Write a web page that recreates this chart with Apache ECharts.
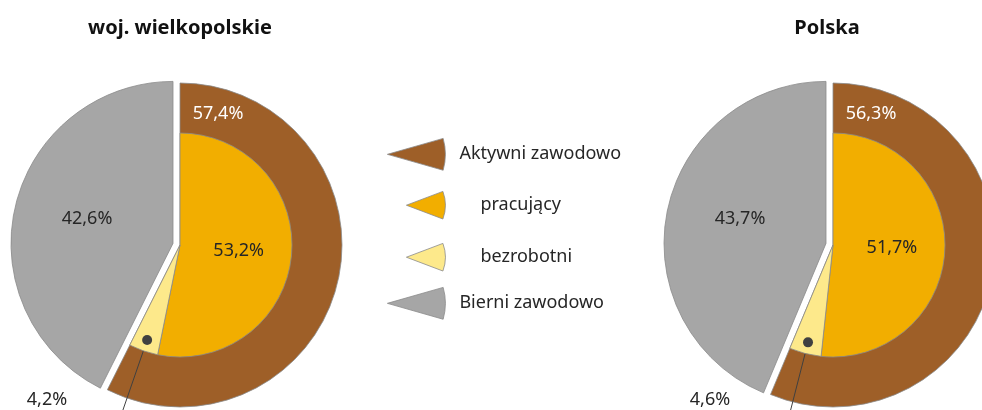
<!DOCTYPE html>
<html>
<head>
<meta charset="utf-8">
<script src="https://cdn.jsdelivr.net/npm/echarts@6/dist/echarts.min.js"></script>
<style>
    html, body { margin: 0; padding: 0; background: #fff; }
    #chart { width: 982px; height: 410px; }
</style>
</head>
<body>
<div id="chart"></div>
<script>
    // dane
    const regions = ['woj. wielkopolskie', 'Polska'];
    const categories = ['Aktywni zawodowo', 'pracujący', 'bezrobotni', 'Bierni zawodowo'];
    const aktywni = [57.4, 56.3];
    const pracujacy = [53.2, 51.7];
    const bezrobotni = [4.2, 4.6];
    const bierni = [42.6, 43.7];

    const colors = {
        'Aktywni zawodowo': '#9E5F28',
        'pracujący': '#F2AE00',
        'bezrobotni': '#FDE98B',
        'Bierni zawodowo': '#A6A6A6'
    };
    const centersX = [180, 833];
    const titlesX = [175, 822];
    const smallLabelDx = [-133, -123];
    const centerY = 245;
    const fontFamily = '"Noto Sans", sans-serif';
    const border = '#8a8a8a';
    const textColor = '#262626';

    const fmt = (v) => v.toFixed(1).replace('.', ',') + '%';
    const wedgeBig = 'path://M0,16 L56,0 A58,58 0 0 1 56,32 Z';
    const wedgeSmall = 'path://M0,14 L37,0 A40,40 0 0 1 37,28 Z';

    var myChart = echarts.init(document.getElementById('chart'));

    let series = [];
    let titles = [];
    regions.forEach((region, i) => {
        const cx = centersX[i];
        titles.push({
            text: region,
            left: titlesX[i],
            top: 13,
            textAlign: 'center',
            textStyle: {fontFamily: fontFamily, fontSize: 20, fontWeight: 'bold', color: '#111'}
        });
        // aktywni zawodowo (brązowy)
        series.push({
            type: 'pie',
            z: 1,
            center: [cx, centerY],
            radius: [0, 162],
            startAngle: 90,
            silent: true,
            animation: false,
            itemStyle: {borderColor: border, borderWidth: 0.8},
            label: {show: true, position: 'inside', fontFamily: fontFamily, fontSize: 18, color: '#fff'},
            labelLine: {show: false},
            labelLayout: {x: cx + 38, y: 114, align: 'center', verticalAlign: 'middle'},
            data: [
                {name: categories[0], value: aktywni[i], itemStyle: {color: colors[categories[0]]},
                    label: {formatter: fmt(aktywni[i])}},
                {name: 'reszta', value: bierni[i], itemStyle: {color: 'transparent', borderWidth: 0},
                    label: {show: false}}
            ]
        });
        // bierni zawodowo (szary, wysunięty)
        series.push({
            type: 'pie',
            z: 1,
            center: [cx - 7, centerY - 1.6],
            radius: [0, 162],
            startAngle: 90,
            silent: true,
            animation: false,
            itemStyle: {borderColor: border, borderWidth: 0.8},
            label: {show: true, position: 'inside', fontFamily: fontFamily, fontSize: 18, color: textColor},
            labelLine: {show: false},
            labelLayout: {x: cx - 93, y: 219, align: 'center', verticalAlign: 'middle'},
            data: [
                {name: 'reszta', value: aktywni[i], itemStyle: {color: 'transparent', borderWidth: 0},
                    label: {show: false}},
                {name: categories[3], value: bierni[i], itemStyle: {color: colors[categories[3]]},
                    label: {formatter: fmt(bierni[i])}}
            ]
        });
        // pracujący / bezrobotni
        series.push({
            type: 'pie',
            z: 3,
            center: [cx, centerY],
            radius: [0, 112],
            startAngle: 90,
            silent: true,
            animation: false,
            itemStyle: {borderColor: border, borderWidth: 0.8},
            label: {show: true, position: 'inside', fontFamily: fontFamily, fontSize: 18, color: textColor},
            labelLine: {show: true, length: 60, length2: 0, lineStyle: {color: '#404040', width: 1}},
            labelLayout: function (params) {
                if (params.dataIndex !== 1) return {};
                const pos = {x: cx + smallLabelDx[i], y: 400, align: 'center', verticalAlign: 'middle'};
                const pts = params.labelLinePoints;
                if (!pts) return pos;
                let dx = pts[1][0] - pts[0][0];
                let dy = pts[1][1] - pts[0][1];
                const len = Math.sqrt(dx * dx + dy * dy) || 1;
                dx /= len;
                dy /= len;
                pos.labelLinePoints = [
                    [pts[0][0] - dx * 12, pts[0][1] - dy * 12],
                    [pts[0][0] + dx * 90, pts[0][1] + dy * 90]
                ];
                return pos;
            },
            data: [
                {name: categories[1], value: pracujacy[i], itemStyle: {color: colors[categories[1]]},
                    label: {formatter: fmt(pracujacy[i])}, labelLine: {show: false}},
                {name: categories[2], value: bezrobotni[i], itemStyle: {color: colors[categories[2]]},
                    label: {position: 'outside', formatter: fmt(bezrobotni[i])}},
                {name: 'reszta', value: bierni[i], itemStyle: {color: 'transparent', borderWidth: 0},
                    label: {show: false}, labelLine: {show: false}}
            ]
        });
        // kropka przy bezrobotnych
        series.push({
            type: 'pie',
            z: 4,
            center: [cx, centerY],
            radius: [87, 108],
            startAngle: 90,
            silent: true,
            animation: false,
            itemStyle: {color: 'transparent', borderWidth: 0},
            label: {show: false},
            labelLine: {show: false},
            data: [
                {name: 'reszta', value: pracujacy[i]},
                {name: categories[2], value: bezrobotni[i],
                    label: {show: true, position: 'inside', formatter: '{d|}',
                        rich: {d: {width: 10, height: 10, borderRadius: 5, backgroundColor: '#404040'}}}},
                {name: 'reszta', value: bierni[i]}
            ]
        });
    });

    // legenda
    const legendTops = [154, 205, 257, 303];
    const legendBig = [true, false, false, true];
    let legends = categories.map((c, k) => ({
        data: [c],
        orient: 'vertical',
        padding: 0,
        left: legendBig[k] ? 387 : 406,
        top: legendTops[k] - (legendBig[k] ? 16 : 14),
        icon: legendBig[k] ? wedgeBig : wedgeSmall,
        itemWidth: legendBig[k] ? 58 : 39,
        itemHeight: legendBig[k] ? 32 : 28,
        selectedMode: false,
        itemStyle: {borderColor: border, borderWidth: 0.8},
        textStyle: {fontFamily: fontFamily, fontSize: 18, color: textColor,
            padding: [0, 0, 0, legendBig[k] ? 9 : 30]}
    }));

    var option = {
        color: categories.map(c => colors[c]),
        title: titles,
        legend: legends,
        series: series
    };
    option && myChart.setOption(option);
</script>
</body>
</html>
